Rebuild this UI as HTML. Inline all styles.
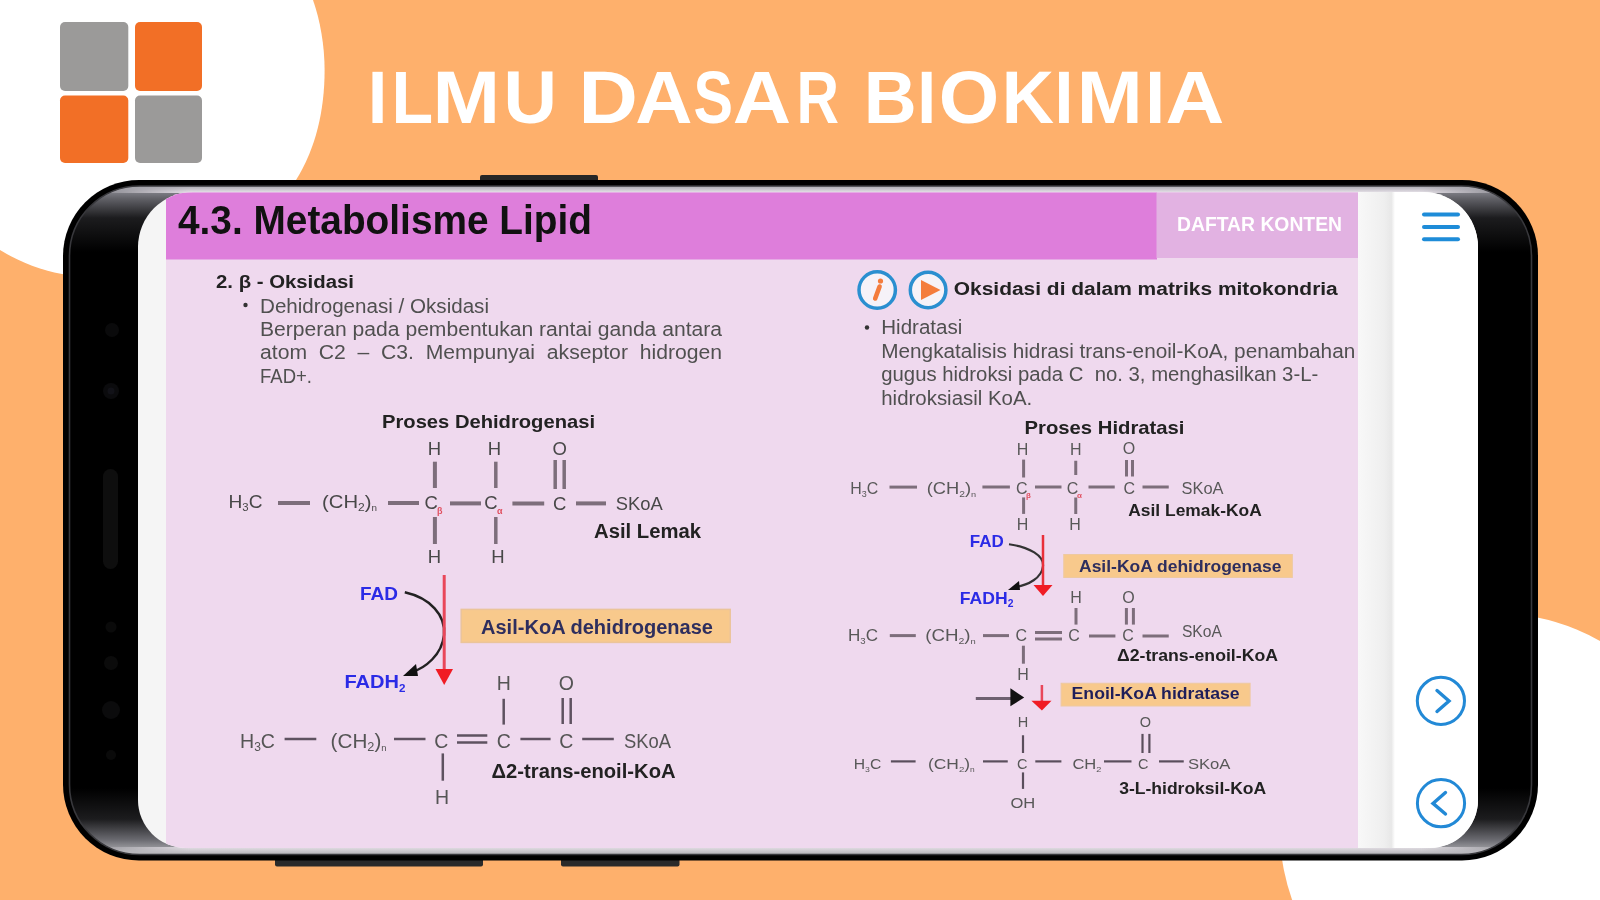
<!DOCTYPE html>
<html>
<head>
<meta charset="utf-8">
<style>
html,body{margin:0;padding:0;width:1600px;height:900px;overflow:hidden;background:#FEB06C;}
svg{display:block;filter:blur(0.5px);}
text{font-family:"Liberation Sans",sans-serif;}
</style>
</head>
<body>
<svg width="1600" height="900" viewBox="0 0 1600 900">
<defs>
<linearGradient id="strip" x1="0" x2="1" y1="0" y2="0">
<stop offset="0" stop-color="#F8F8F8"/><stop offset="0.7" stop-color="#EFEFEF"/><stop offset="0.9" stop-color="#E8E8E8"/><stop offset="1" stop-color="#FFFFFF"/>
</linearGradient>
</defs>

<rect x="0" y="0" width="1600" height="900" fill="#FEB06C"/>
<path d="M0,0 L313,0 C320,20 324.6,45 324.6,70 C324.6,110 316,148 296,180 C260,235 150,290 62,274 C40,270 20,262 0,250 Z" fill="#FFFFFF"/>
<circle cx="1494.4" cy="827.9" r="214.7" fill="#FFFFFF"/>
<rect x="60" y="22" width="68.3" height="69" rx="5" fill="#9B9A99"/>
<rect x="135" y="22" width="67" height="69" rx="5" fill="#F26F26"/>
<rect x="60" y="95.5" width="68.3" height="67.5" rx="5" fill="#F26F26"/>
<rect x="135" y="95.5" width="67" height="67.5" rx="5" fill="#9B9A99"/>
<text transform="translate(367.73,122.5) scale(0.9545,1)" x="0" y="0" font-size="74" font-weight="700" fill="#FFFFFF">I</text>
<text transform="translate(391.39,122.5) scale(0.9211,1)" x="0" y="0" font-size="74" font-weight="700" fill="#FFFFFF">L</text>
<text transform="translate(432.52,122.5) scale(1.0962,1)" x="0" y="0" font-size="74" font-weight="700" fill="#FFFFFF">M</text>
<text transform="translate(503.50,122.5) scale(1.0000,1)" x="0" y="0" font-size="74" font-weight="700" fill="#FFFFFF">U</text>
<text transform="translate(578.44,122.5) scale(1.1111,1)" x="0" y="0" font-size="74" font-weight="700" fill="#FFFFFF">D</text>
<text transform="translate(635.36,122.5) scale(1.0714,1)" x="0" y="0" font-size="74" font-weight="700" fill="#FFFFFF">A</text>
<text transform="translate(693.40,122.5) scale(0.8000,1)" x="0" y="0" font-size="74" font-weight="700" fill="#FFFFFF">S</text>
<text transform="translate(732.82,122.5) scale(1.0918,1)" x="0" y="0" font-size="74" font-weight="700" fill="#FFFFFF">A</text>
<text transform="translate(796.62,122.5) scale(0.7957,1)" x="0" y="0" font-size="74" font-weight="700" fill="#FFFFFF">R</text>
<text transform="translate(863.64,122.5) scale(0.9911,1)" x="0" y="0" font-size="74" font-weight="700" fill="#FFFFFF">B</text>
<text transform="translate(917.21,122.5) scale(0.9182,1)" x="0" y="0" font-size="74" font-weight="700" fill="#FFFFFF">I</text>
<text transform="translate(938.85,122.5) scale(1.0500,1)" x="0" y="0" font-size="74" font-weight="700" fill="#FFFFFF">O</text>
<text transform="translate(1001.71,122.5) scale(0.9787,1)" x="0" y="0" font-size="74" font-weight="700" fill="#FFFFFF">K</text>
<text transform="translate(1054.41,122.5) scale(0.9182,1)" x="0" y="0" font-size="74" font-weight="700" fill="#FFFFFF">I</text>
<text transform="translate(1076.65,122.5) scale(1.0692,1)" x="0" y="0" font-size="74" font-weight="700" fill="#FFFFFF">M</text>
<text transform="translate(1145.18,122.5) scale(0.9636,1)" x="0" y="0" font-size="74" font-weight="700" fill="#FFFFFF">I</text>
<text transform="translate(1165.40,122.5) scale(1.1000,1)" x="0" y="0" font-size="74" font-weight="700" fill="#FFFFFF">A</text>
<rect x="480" y="175" width="118" height="8" rx="2" fill="#262626"/>
<rect x="275" y="855" width="208" height="11.5" rx="2" fill="#2A2A2A"/>
<rect x="561" y="855" width="118.5" height="11.5" rx="2" fill="#2A2A2A"/>
<rect x="63" y="180" width="1475" height="680.5" rx="76" fill="#000"/>
<defs><linearGradient id="gtf" gradientUnits="userSpaceOnUse" x1="0" y1="182" x2="0" y2="275"><stop offset="0" stop-color="#b0b0b8"/><stop offset="0.3" stop-color="#6a6a72" stop-opacity="0.85"/><stop offset="1" stop-color="#000" stop-opacity="0"/></linearGradient><linearGradient id="gbf" gradientUnits="userSpaceOnUse" x1="0" y1="765" x2="0" y2="858"><stop offset="0" stop-color="#000" stop-opacity="0"/><stop offset="0.7" stop-color="#76767c" stop-opacity="0.85"/><stop offset="1" stop-color="#d4d4d8"/></linearGradient><filter id="blur5" x="-5%" y="-30%" width="110%" height="160%"><feGaussianBlur stdDeviation="5"/></filter><clipPath id="bodyclip"><rect x="69.5" y="186" width="1462" height="668.5" rx="70"/></clipPath></defs>
<defs><linearGradient id="gtop" gradientUnits="userSpaceOnUse" x1="0" y1="184" x2="0" y2="252"><stop offset="0" stop-color="#a4a4ac"/><stop offset="0.22" stop-color="#606066"/><stop offset="0.5" stop-color="#1c1c1e"/><stop offset="1" stop-color="#000"/></linearGradient><linearGradient id="gbot" gradientUnits="userSpaceOnUse" x1="0" y1="788" x2="0" y2="857"><stop offset="0" stop-color="#000"/><stop offset="0.45" stop-color="#1c1c1e"/><stop offset="0.75" stop-color="#6a6a70"/><stop offset="1" stop-color="#c8c8cc"/></linearGradient></defs>
<g clip-path="url(#bodyclip)"><rect x="60" y="180" width="1480" height="72" fill="url(#gtop)"/><rect x="60" y="788" width="1480" height="72" fill="url(#gbot)"/></g>
<defs><linearGradient id="gts" gradientUnits="userSpaceOnUse" x1="0" y1="185" x2="0" y2="192"><stop offset="0" stop-color="#a0a0a8"/><stop offset="1" stop-color="#e2dde4"/></linearGradient><linearGradient id="gbs" gradientUnits="userSpaceOnUse" x1="0" y1="848" x2="0" y2="856"><stop offset="0" stop-color="#dedae0"/><stop offset="1" stop-color="#a8a8ac"/></linearGradient><linearGradient id="hfade" gradientUnits="userSpaceOnUse" x1="90" y1="0" x2="1520" y2="0"><stop offset="0" stop-color="#fff" stop-opacity="0"/><stop offset="0.07" stop-color="#fff" stop-opacity="1"/><stop offset="0.93" stop-color="#fff" stop-opacity="1"/><stop offset="1" stop-color="#fff" stop-opacity="0"/></linearGradient><mask id="hmask" maskUnits="userSpaceOnUse" x="0" y="0" width="1600" height="900"><rect x="0" y="0" width="1600" height="900" fill="url(#hfade)"/></mask></defs>
<g clip-path="url(#bodyclip)" mask="url(#hmask)"><rect x="80" y="185" width="1450" height="8" fill="url(#gts)"/><rect x="80" y="847" width="1450" height="9" fill="url(#gbs)"/></g>
<rect x="69.5" y="186" width="1462" height="668.5" rx="70" fill="none" stroke="#38383c" stroke-width="1.6"/>
<circle cx="112" cy="330" r="7" fill="#0a0a0b"/>
<circle cx="111" cy="391" r="8" fill="#0b0b0d"/><circle cx="111" cy="391" r="3.5" fill="#121218"/>
<rect x="103" y="469" width="15" height="100" rx="7.5" fill="#0e0e0e"/>
<circle cx="111" cy="627" r="5.5" fill="#0a0a0a"/><circle cx="111" cy="663" r="7" fill="#0b0b0b"/><circle cx="111" cy="710" r="9" fill="#0b0b0c"/><circle cx="111" cy="755" r="5" fill="#0a0a0a"/>
<defs><clipPath id="contclip"><path d="M138,247 A55,55 0 0 1 193,192 L1423,192 A55,55 0 0 1 1478,247 L1478,800 A48,48 0 0 1 1430,848 L186,848 A48,48 0 0 1 138,800 Z"/></clipPath></defs>
<g clip-path="url(#contclip)">
<rect x="138" y="192" width="1340" height="656" fill="#F5F5F5"/>
<rect x="166" y="192" width="1192" height="656" fill="#EFD9EE"/>
<rect x="166" y="192.5" width="991" height="67" fill="#DE7EDB"/>
<rect x="1156.5" y="192.5" width="201.5" height="65.5" fill="#E2B2E2"/>
<rect x="1358" y="192" width="37" height="656" fill="url(#strip)"/>
<rect x="1395" y="192" width="83" height="656" fill="#FFFFFF"/>
</g>
<text x="178" y="234" font-size="40" font-weight="700" fill="#111" textLength="414" lengthAdjust="spacingAndGlyphs">4.3. Metabolisme Lipid</text>
<text x="1177" y="231" font-size="21" font-weight="700" fill="#FFFFFF" textLength="165" lengthAdjust="spacingAndGlyphs">DAFTAR KONTEN</text>
<rect x="1422" y="212.6" width="38" height="4" rx="2" fill="#1E8CD8"/>
<rect x="1422" y="225" width="38" height="4" rx="2" fill="#1E8CD8"/>
<rect x="1422" y="237.2" width="38" height="4" rx="2" fill="#1E8CD8"/>
<circle cx="1440.9" cy="700.8" r="23.6" fill="none" stroke="#2289D6" stroke-width="3"/>
<path d="M1437,690.5 L1449,701 L1437,711.5" fill="none" stroke="#2289D6" stroke-width="3.4" stroke-linecap="round" stroke-linejoin="miter"/>
<circle cx="1441" cy="803.2" r="23.6" fill="none" stroke="#2289D6" stroke-width="3"/>
<path d="M1445.5,792.5 L1433,803.4 L1445.5,814" fill="none" stroke="#2289D6" stroke-width="3.4" stroke-linecap="round" stroke-linejoin="miter"/>
<text x="216" y="287.5" font-size="18" font-weight="700" fill="#222" textLength="138" lengthAdjust="spacingAndGlyphs">2. β - Oksidasi</text>
<circle cx="245.5" cy="305" r="2.2" fill="#333"/>
<text x="260" y="312.5" font-size="19.5" fill="#505050" textLength="229" lengthAdjust="spacingAndGlyphs">Dehidrogenasi / Oksidasi</text>
<text x="260" y="335.5" font-size="19.5" fill="#505050" textLength="462" lengthAdjust="spacingAndGlyphs">Berperan pada pembentukan rantai ganda antara</text>
<text x="260" y="359" font-size="19.5" fill="#505050" textLength="462" lengthAdjust="spacingAndGlyphs" xml:space="preserve">atom  C2  –  C3.  Mempunyai  akseptor  hidrogen</text>
<text x="260" y="383" font-size="19.5" fill="#505050" textLength="52" lengthAdjust="spacingAndGlyphs">FAD+.</text>
<text x="382" y="428" font-size="19" font-weight="700" fill="#222" textLength="213" lengthAdjust="spacingAndGlyphs">Proses Dehidrogenasi</text>
<text x="228.5" y="508" font-size="18.5" fill="#484848" textLength="34" lengthAdjust="spacingAndGlyphs">H<tspan font-size="11" dy="3">3</tspan><tspan dy="-3">C</tspan></text>
<line x1="278" y1="503" x2="310" y2="503" stroke="#7D6E7B" stroke-width="4"/>
<text x="322" y="508" font-size="18.5" fill="#484848" textLength="55" lengthAdjust="spacingAndGlyphs">(CH<tspan font-size="11" dy="3">2</tspan><tspan dy="-3">)</tspan><tspan font-size="9" dy="3">n</tspan></text>
<line x1="388" y1="503" x2="419" y2="503" stroke="#7D6E7B" stroke-width="4"/>
<text x="424.5" y="509" font-size="18.5" fill="#484848">C</text>
<text x="437" y="514" font-size="9" font-weight="700" fill="#E05060">β</text>
<line x1="450" y1="503.4" x2="481" y2="503.4" stroke="#7D6E7B" stroke-width="4"/>
<text x="484.3" y="509" font-size="18.5" fill="#484848">C</text>
<text x="497" y="514" font-size="9" font-weight="700" fill="#E05060">α</text>
<line x1="512.4" y1="503.4" x2="544.2" y2="503.4" stroke="#7D6E7B" stroke-width="4"/>
<text x="553" y="509.7" font-size="18.5" fill="#484848">C</text>
<line x1="576" y1="503.4" x2="606" y2="503.4" stroke="#7D6E7B" stroke-width="4"/>
<text x="615.8" y="509.7" font-size="18.5" fill="#484848" textLength="47" lengthAdjust="spacingAndGlyphs">SKoA</text>
<text x="434.4" y="454.5" font-size="18.5" fill="#484848" text-anchor="middle">H</text>
<text x="494.4" y="454.5" font-size="18.5" fill="#484848" text-anchor="middle">H</text>
<text x="559.7" y="455" font-size="18.5" fill="#484848" text-anchor="middle">O</text>
<line x1="434.9" y1="461.7" x2="434.9" y2="488" stroke="#7D6E7B" stroke-width="4"/>
<line x1="495.8" y1="461.7" x2="495.8" y2="488" stroke="#7D6E7B" stroke-width="3.5"/>
<line x1="555.2" y1="460" x2="555.2" y2="489" stroke="#7D6E7B" stroke-width="3.5"/>
<line x1="564.2" y1="460" x2="564.2" y2="489" stroke="#7D6E7B" stroke-width="3.5"/>
<line x1="434.9" y1="517" x2="434.9" y2="544" stroke="#7D6E7B" stroke-width="4"/>
<line x1="495.8" y1="517" x2="495.8" y2="544" stroke="#7D6E7B" stroke-width="3.5"/>
<text x="434.4" y="563" font-size="18.5" fill="#484848" text-anchor="middle">H</text>
<text x="498" y="563" font-size="18.5" fill="#484848" text-anchor="middle">H</text>
<text x="594" y="537.8" font-size="19.5" font-weight="700" fill="#222" textLength="107" lengthAdjust="spacingAndGlyphs">Asil Lemak</text>
<text x="360" y="600.2" font-size="19" font-weight="700" fill="#2B2BE6" textLength="38" lengthAdjust="spacingAndGlyphs">FAD</text>
<text x="344.4" y="688" font-size="19" font-weight="700" fill="#2B2BE6" textLength="61" lengthAdjust="spacingAndGlyphs">FADH<tspan font-size="11" dy="4">2</tspan></text>
<path d="M404.8,592.3 C430,598 446,615 444,635 C442,655 425,668 412,672" fill="none" stroke="#222" stroke-width="2.5"/>
<path d="M403,676 L416,664 L418,676 Z" fill="#111"/>
<line x1="444.2" y1="575" x2="444.2" y2="672" stroke="#E9475A" stroke-width="3"/>
<path d="M435.5,669 L453,669 L444.2,685 Z" fill="#F01C24"/>
<rect x="461.2" y="609.4" width="269" height="33" fill="#F8C98C" stroke="#EBC49A" stroke-width="1.5"/>
<text x="481" y="634.3" font-size="20" font-weight="700" fill="#2E2E5E" textLength="232" lengthAdjust="spacingAndGlyphs">Asil-KoA dehidrogenase</text>
<text x="240" y="747.6" font-size="19.5" fill="#555555" textLength="35" lengthAdjust="spacingAndGlyphs">H<tspan font-size="12" dy="3">3</tspan><tspan dy="-3">C</tspan></text>
<line x1="284.6" y1="739" x2="316.3" y2="739" stroke="#5E5260" stroke-width="2.5"/>
<text x="330.6" y="747.6" font-size="19.5" fill="#555555" textLength="56" lengthAdjust="spacingAndGlyphs">(CH<tspan font-size="12" dy="3">2</tspan><tspan dy="-3">)</tspan><tspan font-size="9" dy="3">n</tspan></text>
<line x1="394" y1="739" x2="425.5" y2="739" stroke="#5E5260" stroke-width="2.5"/>
<text x="441.2" y="747.6" font-size="19.5" fill="#555555" text-anchor="middle">C</text>
<line x1="457" y1="735.5" x2="487.3" y2="735.5" stroke="#5E5260" stroke-width="2.5"/>
<line x1="457" y1="742.5" x2="487.3" y2="742.5" stroke="#5E5260" stroke-width="2.5"/>
<text x="503.8" y="747.6" font-size="19.5" fill="#555555" text-anchor="middle">C</text>
<line x1="520.4" y1="739" x2="550.6" y2="739" stroke="#5E5260" stroke-width="2.5"/>
<text x="566.4" y="747.6" font-size="19.5" fill="#555555" text-anchor="middle">C</text>
<line x1="582.2" y1="739" x2="613.8" y2="739" stroke="#5E5260" stroke-width="2.5"/>
<text x="624" y="747.6" font-size="19.5" fill="#555555" textLength="47" lengthAdjust="spacingAndGlyphs">SKoA</text>
<text x="503.8" y="690" font-size="19.5" fill="#555555" text-anchor="middle">H</text>
<text x="566.4" y="690" font-size="19.5" fill="#555555" text-anchor="middle">O</text>
<line x1="503.7" y1="698.8" x2="503.7" y2="724.6" stroke="#5E5260" stroke-width="2.5"/>
<line x1="562.7" y1="698" x2="562.7" y2="724" stroke="#5E5260" stroke-width="2.5"/>
<line x1="570.7" y1="698" x2="570.7" y2="724" stroke="#5E5260" stroke-width="2.5"/>
<line x1="442.8" y1="753.4" x2="442.8" y2="780.7" stroke="#5E5260" stroke-width="2.5"/>
<text x="442" y="803.7" font-size="19.5" fill="#555555" text-anchor="middle">H</text>
<text x="491.6" y="777.8" font-size="19.5" font-weight="700" fill="#222" textLength="184" lengthAdjust="spacingAndGlyphs">Δ2-trans-enoil-KoA</text>
<circle cx="877.2" cy="290" r="18.2" fill="#F6F2F8" stroke="#2A8FD0" stroke-width="3.5"/>
<circle cx="880.5" cy="281" r="2.6" fill="#F47C3C"/>
<path d="M879.6,286.5 L875.2,298.5" stroke="#F47C3C" stroke-width="4.6" stroke-linecap="round"/>
<circle cx="928.1" cy="290" r="17.8" fill="#F6F2F8" stroke="#2A8FD0" stroke-width="3.5"/>
<path d="M921,280 L940.5,290 L921,300 Z" fill="#F47C3C"/>
<text x="953.75" y="295" font-size="18" font-weight="700" fill="#222" textLength="384" lengthAdjust="spacingAndGlyphs">Oksidasi di dalam matriks mitokondria</text>
<circle cx="867" cy="327.5" r="2.2" fill="#333"/>
<text x="881.25" y="333.75" font-size="19.5" fill="#505050" textLength="81" lengthAdjust="spacingAndGlyphs">Hidratasi</text>
<text x="881.25" y="357.75" font-size="19.5" fill="#505050" textLength="474" lengthAdjust="spacingAndGlyphs">Mengkatalisis hidrasi trans-enoil-KoA, penambahan</text>
<text x="881.25" y="381" font-size="19.5" fill="#505050" textLength="437" lengthAdjust="spacingAndGlyphs" xml:space="preserve">gugus hidroksi pada C  no. 3, menghasilkan 3-L-</text>
<text x="881.25" y="405" font-size="19.5" fill="#505050" textLength="151" lengthAdjust="spacingAndGlyphs">hidroksiasil KoA.</text>
<text x="1024.5" y="434.25" font-size="18.5" font-weight="700" fill="#222" textLength="160" lengthAdjust="spacingAndGlyphs">Proses Hidratasi</text>
<text x="850.3" y="494" font-size="16" fill="#585858" textLength="28" lengthAdjust="spacingAndGlyphs">H<tspan font-size="9" dy="3">3</tspan><tspan dy="-3">C</tspan></text>
<line x1="889.5" y1="487.1" x2="917" y2="487.1" stroke="#7D6E7B" stroke-width="3"/>
<text x="926.7" y="494" font-size="16" fill="#585858" textLength="49.5" lengthAdjust="spacingAndGlyphs">(CH<tspan font-size="9" dy="3">2</tspan><tspan dy="-3">)</tspan><tspan font-size="8" dy="3">n</tspan></text>
<line x1="982.4" y1="487" x2="1009.9" y2="487" stroke="#7D6E7B" stroke-width="3"/>
<text x="1016" y="494" font-size="16" fill="#585858">C</text>
<text x="1026" y="498" font-size="8" font-weight="700" fill="#E05060">β</text>
<line x1="1035" y1="487" x2="1061.5" y2="487" stroke="#7D6E7B" stroke-width="3"/>
<text x="1066.75" y="494" font-size="16" fill="#585858">C</text>
<text x="1077" y="498" font-size="8" font-weight="700" fill="#E05060">α</text>
<line x1="1088.5" y1="487" x2="1114.75" y2="487" stroke="#7D6E7B" stroke-width="3"/>
<text x="1129.4" y="493.5" font-size="16" fill="#585858" text-anchor="middle">C</text>
<line x1="1142.5" y1="487" x2="1168.75" y2="487" stroke="#7D6E7B" stroke-width="3"/>
<text x="1181.5" y="493.5" font-size="16" fill="#585858" textLength="42" lengthAdjust="spacingAndGlyphs">SKoA</text>
<text x="1022.5" y="455" font-size="16" fill="#585858" text-anchor="middle">H</text>
<text x="1075.75" y="454.5" font-size="16" fill="#585858" text-anchor="middle">H</text>
<text x="1129" y="453.5" font-size="16" fill="#585858" text-anchor="middle">O</text>
<line x1="1023.6" y1="459.6" x2="1023.6" y2="477.5" stroke="#7D6E7B" stroke-width="3"/>
<line x1="1075.75" y1="460.75" x2="1075.75" y2="475" stroke="#7D6E7B" stroke-width="3"/>
<line x1="1126.5" y1="460" x2="1126.5" y2="476.5" stroke="#7D6E7B" stroke-width="3"/>
<line x1="1132.5" y1="460" x2="1132.5" y2="476.5" stroke="#7D6E7B" stroke-width="3"/>
<line x1="1023.6" y1="497.4" x2="1023.6" y2="513.9" stroke="#7D6E7B" stroke-width="3"/>
<line x1="1075.75" y1="497.5" x2="1075.75" y2="514" stroke="#7D6E7B" stroke-width="3"/>
<text x="1022.5" y="530.4" font-size="16" fill="#585858" text-anchor="middle">H</text>
<text x="1075" y="529.75" font-size="16" fill="#585858" text-anchor="middle">H</text>
<text x="1128.25" y="515.5" font-size="16.5" font-weight="700" fill="#222" textLength="133.5" lengthAdjust="spacingAndGlyphs">Asil Lemak-KoA</text>
<text x="969.7" y="546.9" font-size="17" font-weight="700" fill="#2B2BE6" textLength="34" lengthAdjust="spacingAndGlyphs">FAD</text>
<text x="959.8" y="603.75" font-size="17" font-weight="700" fill="#2B2BE6" textLength="53.6" lengthAdjust="spacingAndGlyphs">FADH<tspan font-size="10" dy="3">2</tspan></text>
<path d="M1009,544.25 C1030,547 1044,556 1043,566 C1042,578 1028,585 1016,587" fill="none" stroke="#333" stroke-width="2.2"/>
<path d="M1008,590 L1019,581 L1020,590 Z" fill="#111"/>
<line x1="1043" y1="535" x2="1043" y2="586" stroke="#E9303A" stroke-width="2.5"/>
<path d="M1033.5,585 L1052.5,585 L1043,596 Z" fill="#F01C24"/>
<rect x="1063.75" y="554.5" width="228.6" height="23" fill="#F8C98C" stroke="#EEC9A0" stroke-width="1"/>
<text x="1079" y="572" font-size="17" font-weight="700" fill="#2E2E5E" textLength="202.4" lengthAdjust="spacingAndGlyphs">Asil-KoA dehidrogenase</text>
<text x="848" y="640.6" font-size="16" fill="#585858" textLength="30" lengthAdjust="spacingAndGlyphs">H<tspan font-size="9" dy="3">3</tspan><tspan dy="-3">C</tspan></text>
<line x1="889.8" y1="635.6" x2="915.8" y2="635.6" stroke="#7D6E7B" stroke-width="3"/>
<text x="925.2" y="640.6" font-size="16" fill="#585858" textLength="50.6" lengthAdjust="spacingAndGlyphs">(CH<tspan font-size="9" dy="3">2</tspan><tspan dy="-3">)</tspan><tspan font-size="8" dy="3">n</tspan></text>
<line x1="983" y1="635.6" x2="1009" y2="635.6" stroke="#7D6E7B" stroke-width="3"/>
<text x="1021.2" y="641" font-size="16" fill="#585858" text-anchor="middle">C</text>
<line x1="1035" y1="632.5" x2="1062" y2="632.5" stroke="#7D6E7B" stroke-width="3"/>
<line x1="1035" y1="639" x2="1062" y2="639" stroke="#7D6E7B" stroke-width="3"/>
<text x="1074" y="641" font-size="16" fill="#585858" text-anchor="middle">C</text>
<line x1="1089" y1="636" x2="1115.4" y2="636" stroke="#7D6E7B" stroke-width="3"/>
<text x="1128" y="641" font-size="16" fill="#585858" text-anchor="middle">C</text>
<line x1="1142.5" y1="636" x2="1168.75" y2="636" stroke="#7D6E7B" stroke-width="3"/>
<text x="1181.9" y="637" font-size="16" fill="#585858" textLength="40" lengthAdjust="spacingAndGlyphs">SKoA</text>
<text x="1076" y="602.75" font-size="16" fill="#585858" text-anchor="middle">H</text>
<text x="1128.5" y="602.75" font-size="16" fill="#585858" text-anchor="middle">O</text>
<line x1="1076" y1="608" x2="1076" y2="624.6" stroke="#7D6E7B" stroke-width="3"/>
<line x1="1126.4" y1="608" x2="1126.4" y2="624.6" stroke="#7D6E7B" stroke-width="3"/>
<line x1="1133.4" y1="608" x2="1133.4" y2="624.6" stroke="#7D6E7B" stroke-width="3"/>
<line x1="1023.4" y1="645.7" x2="1023.4" y2="663.7" stroke="#7D6E7B" stroke-width="3"/>
<text x="1023" y="680.3" font-size="16" fill="#585858" text-anchor="middle">H</text>
<text x="1117" y="661.4" font-size="16.5" font-weight="700" fill="#222" textLength="161" lengthAdjust="spacingAndGlyphs">Δ2-trans-enoil-KoA</text>
<line x1="975.8" y1="698.4" x2="1012" y2="698.4" stroke="#6E6070" stroke-width="3"/>
<path d="M1010.4,688.3 L1024.2,697.5 L1010.4,706.3 Z" fill="#111"/>
<line x1="1041.9" y1="685" x2="1041.9" y2="701" stroke="#E9475A" stroke-width="2.5"/>
<path d="M1031.4,700.75 L1051.5,700.75 L1041.9,710.4 Z" fill="#F01C24"/>
<rect x="1061.1" y="683.25" width="189" height="22.75" fill="#F8C98C" stroke="#EEC9A0" stroke-width="1"/>
<text x="1071.6" y="699" font-size="17" font-weight="700" fill="#1E1E5A" textLength="168" lengthAdjust="spacingAndGlyphs">Enoil-KoA hidratase</text>
<text x="853.75" y="768.8" font-size="14.5" fill="#585858" textLength="27.5" lengthAdjust="spacingAndGlyphs">H<tspan font-size="8" dy="3">3</tspan><tspan dy="-3">C</tspan></text>
<line x1="890.9" y1="761.4" x2="915.6" y2="761.4" stroke="#5A4E5C" stroke-width="2.2"/>
<text x="928" y="768.8" font-size="14.5" fill="#585858" textLength="46.75" lengthAdjust="spacingAndGlyphs">(CH<tspan font-size="8" dy="3">2</tspan><tspan dy="-3">)</tspan><tspan font-size="7" dy="3">n</tspan></text>
<line x1="983" y1="761.4" x2="1007.75" y2="761.4" stroke="#5A4E5C" stroke-width="2.2"/>
<text x="1022.2" y="768.8" font-size="14.5" fill="#585858" text-anchor="middle">C</text>
<line x1="1035.3" y1="761.4" x2="1061.4" y2="761.4" stroke="#5A4E5C" stroke-width="2.2"/>
<text x="1072.4" y="768.8" font-size="14.5" fill="#585858" textLength="29" lengthAdjust="spacingAndGlyphs">CH<tspan font-size="8" dy="3">2</tspan></text>
<line x1="1104" y1="761.4" x2="1131.5" y2="761.4" stroke="#5A4E5C" stroke-width="2.2"/>
<text x="1143.2" y="768.8" font-size="14.5" fill="#585858" text-anchor="middle">C</text>
<line x1="1159" y1="761.4" x2="1183.75" y2="761.4" stroke="#5A4E5C" stroke-width="2.2"/>
<text x="1187.9" y="768.8" font-size="14.5" fill="#585858" textLength="42.6" lengthAdjust="spacingAndGlyphs">SKoA</text>
<text x="1022.9" y="727" font-size="14.5" fill="#585858" text-anchor="middle">H</text>
<text x="1145.3" y="727" font-size="14.5" fill="#585858" text-anchor="middle">O</text>
<line x1="1023" y1="735.25" x2="1023" y2="753" stroke="#5A4E5C" stroke-width="2.2"/>
<line x1="1142.5" y1="733.9" x2="1142.5" y2="753" stroke="#5A4E5C" stroke-width="2.2"/>
<line x1="1149.4" y1="733.9" x2="1149.4" y2="753" stroke="#5A4E5C" stroke-width="2.2"/>
<line x1="1023" y1="772.4" x2="1023" y2="788.9" stroke="#5A4E5C" stroke-width="2.2"/>
<text x="1010.5" y="808.1" font-size="14.5" fill="#585858" textLength="24.8" lengthAdjust="spacingAndGlyphs">OH</text>
<text x="1119.2" y="793.6" font-size="16" font-weight="700" fill="#222" textLength="147" lengthAdjust="spacingAndGlyphs">3-L-hidroksil-KoA</text>
</svg>
</body>
</html>
